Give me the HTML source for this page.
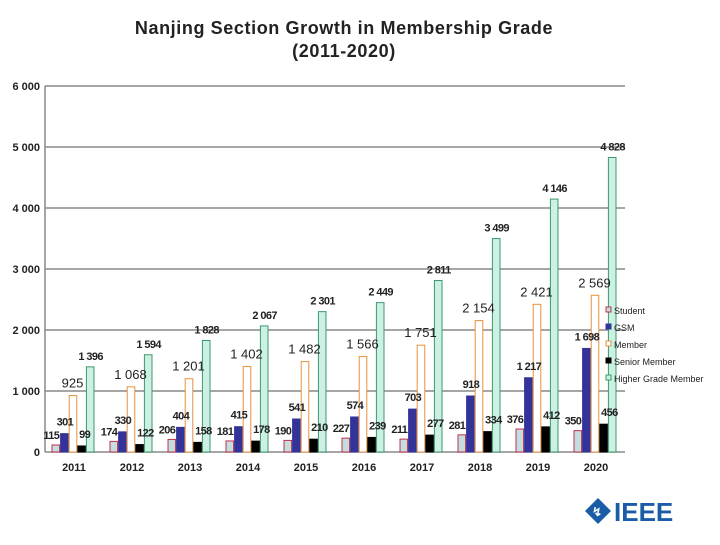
<!DOCTYPE html>
<html><head><meta charset="utf-8"><style>
body{margin:0;background:#fff;font-family:"Liberation Sans",sans-serif}
svg text{font-family:"Liberation Sans",sans-serif}
</style></head><body>
<svg id="c" width="720" height="540">
<text x="344" y="34" text-anchor="middle" font-size="18" font-weight="bold" letter-spacing="0.6" fill="#222">Nanjing Section Growth in Membership Grade</text>
<text x="344" y="57" text-anchor="middle" font-size="18" font-weight="bold" letter-spacing="0.6" fill="#222">(2011-2020)</text>
<g id="plot"></g>
<g>
<polygon points="598,498 611,511 598,524 585,511" fill="#1a5da6"/>
<text x="592" y="516" font-size="12" fill="#fff" font-weight="bold">↯</text>
<text x="614" y="521" font-size="26" font-weight="bold" fill="#1a5da6">IEEE</text>
</g>
</svg>
<script>
const years=['2011','2012','2013','2014','2015','2016','2017','2018','2019','2020'];
const student=[115,174,206,181,190,227,211,281,376,350];
const gsm=[301,330,404,415,541,574,703,918,1217,1698];
const member=[925,1068,1201,1402,1482,1566,1751,2154,2421,2569];
const senior=[99,122,158,178,210,239,277,334,412,456];
const higher=[1396,1594,1828,2067,2301,2449,2811,3499,4146,4828];
const yTicks=[0,1000,2000,3000,4000,5000,6000];
const names=['Student','GSM','Member','Senior Member','Higher Grade Member'];
const NS='http://www.w3.org/2000/svg';
const g=document.getElementById('plot');
const x0=45,x1=625,yb=452,yt=86;
const y=v=>yb-(v/6000)*(yb-yt);
const cw=(x1-x0)/years.length;
const xc=i=>x0+cw*(i+0.5);
function el(t,a){const e=document.createElementNS(NS,t);for(const k in a)e.setAttribute(k,a[k]);g.appendChild(e);return e;}
const fmt=v=>v>=1000?Math.floor(v/1000)+' '+String(v%1000).padStart(3,'0'):String(v);
yTicks.forEach(t=>{
 const l=el('line',{x1:x0,x2:x1,y1:y(t),y2:y(t),stroke:'#888','stroke-width':1.5});
 
 const tx=el('text',{x:x0-5,y:y(t)+4,'text-anchor':'end','font-size':11,'font-weight':'bold',fill:'#222'});
 tx.textContent=fmt(t);
 
});
const ax=el('line',{x1:x0,x2:x0,y1:yt,y2:yb,stroke:'#888','stroke-width':1.5});

const series=[student,gsm,member,senior,higher];
const fills=['#c4dedf','#333399','#ffffff','#000000','#cdf0e4'];
const strokes=['#c0304a','#333399','#e8903a','#000000','#3a9a6a'];
const lblW=['bold','bold','normal','bold','bold'];
const lblS=[11,11,13,11,11];
const anchors=['end','middle','middle','start','middle'];
const dx=[3,0,-1,-3,0];
const dy=[-6,-8,-8,-8,-7];
const bw=8.6;
years.forEach((yr,i)=>{
 series.forEach((s,k)=>{
  const bx=xc(i)-22+k*bw;
  const r=el('rect',{x:bx,y:y(s[i]),width:bw-1,height:yb-y(s[i]),fill:fills[k],stroke:strokes[k],'stroke-width':1});
  
  
 });
 series.forEach((s,k)=>{
  const bx=xc(i)-22+k*bw;
  const t=el('text',{x:bx+bw/2+dx[k],y:y(s[i])+dy[k],'text-anchor':anchors[k],'font-size':lblS[k],'font-weight':lblW[k],'letter-spacing':k==2?0:-0.6,fill:'#222'});
  t.textContent=fmt(s[i]);
  
 });
 const t=el('text',{x:xc(i),y:471,'text-anchor':'middle','font-size':11,'font-weight':'bold',fill:'#222'});
 t.textContent=yr;
 
});
names.forEach((n,k)=>{
 const ly=310+k*17;
 const r=el('rect',{x:606,y:ly-3,width:5,height:5,fill:fills[k],stroke:strokes[k],'stroke-width':1});
 
 const t=el('text',{x:614,y:ly+4,'font-size':9,fill:'#222'});
 t.textContent=n;
 
});
</script>
</body></html>
